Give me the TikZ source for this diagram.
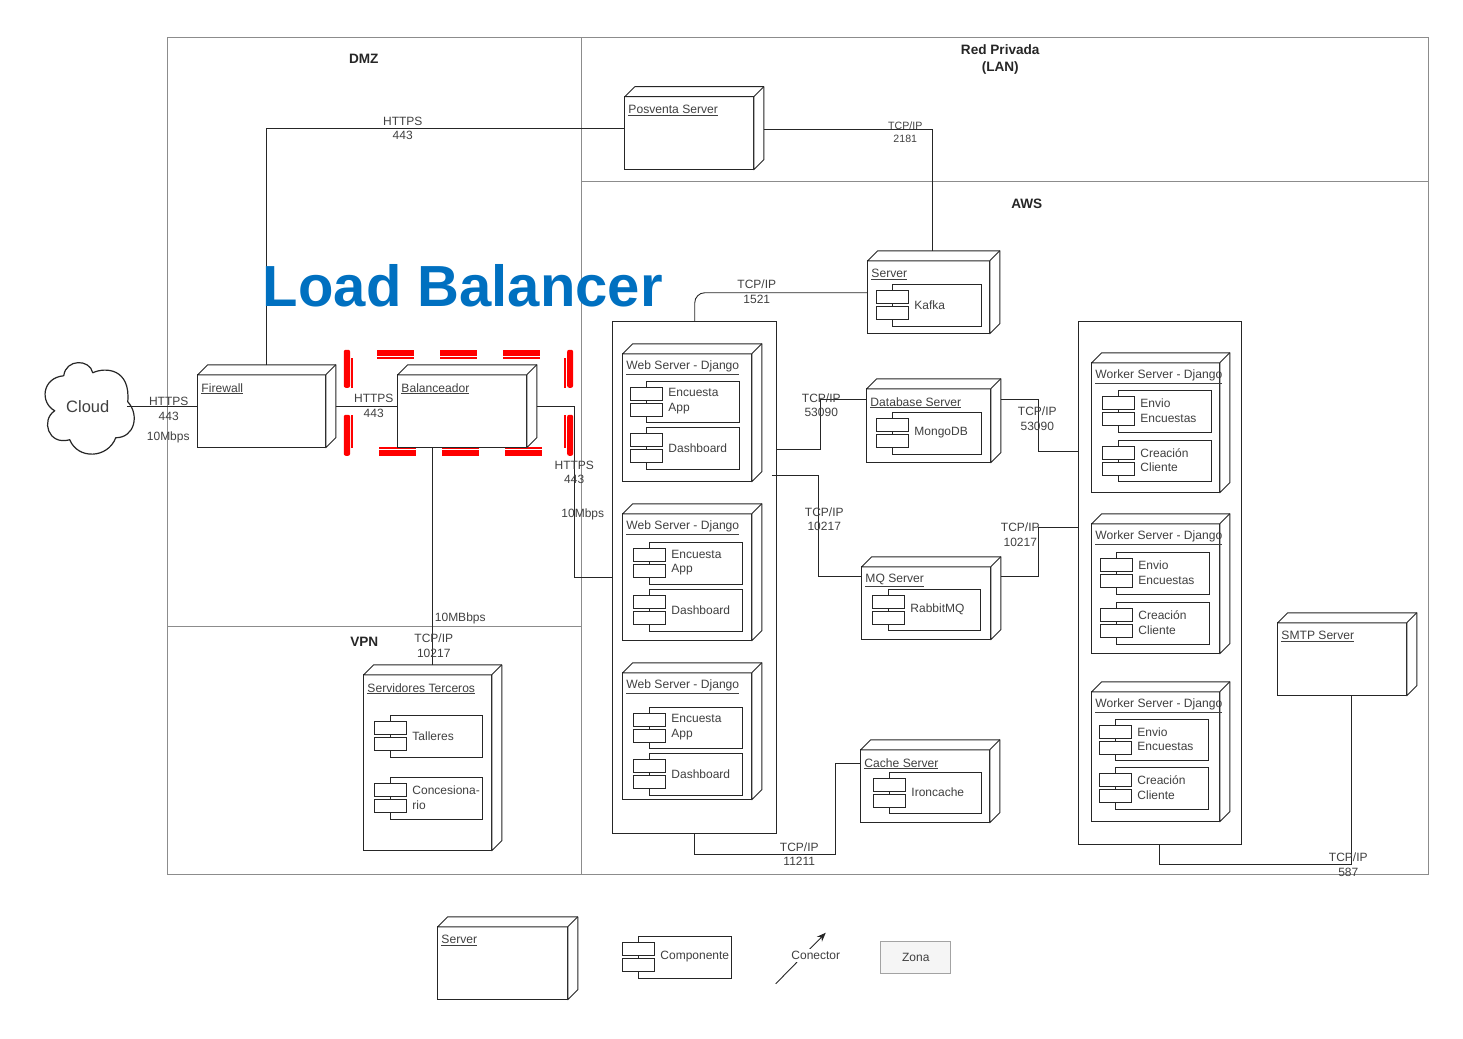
\documentclass[tikz,border=0pt]{standalone}
\usepackage{fontspec}
\setmainfont{Liberation Sans}
\usetikzlibrary{arrows.meta}
\definecolor{txt}{HTML}{404040}
\definecolor{ln}{HTML}{262626}
\definecolor{zoneln}{HTML}{8C8C8C}
\definecolor{lbblue}{RGB}{0,112,192}
\tikzset{
  frontbox/.style={draw=ln,fill=white,line width=1pt,anchor=north west,inner sep=0pt,outer sep=0pt},
  edge/.style={draw=ln,line width=1pt,line join=round},
  link/.style={draw=ln,line width=0.9pt},
  zone/.style={draw=zoneln,line width=0.9pt},
  lbl/.style={text=txt,align=center,inner sep=0pt,font=\fontsize{12}{14.5}\selectfont},
  lblsmall/.style={text=txt,align=center,inner sep=0pt,font=\fontsize{10.6}{13}\selectfont},
  ttl/.style={text=txt,anchor=west,inner sep=0pt,font=\fontsize{12.1}{14.5}\selectfont},
  zonetitle/.style={text=ln,align=center,inner sep=0pt,font=\fontsize{13.6}{17}\selectfont\bfseries},
  ctext/.style={text=txt,anchor=west,align=left,inner sep=0pt,font=\fontsize{12}{14.5}\selectfont},
  redmark/.style={fill=red},
}
% name, x, y (front top-left), w, h, title
\newcommand{\srvbox}[6]{%
  \node[frontbox,minimum width=#4,minimum height=#5] (#1) at (#2,#3) {};
  \draw[edge,fill=white] (#1.north west) -- ++(10,-10) -- ++(#4,0) -- ++(0,#5) -- ++(-10,10) -- (#1.north east) -- cycle;
  \draw[edge] (#1.north east) -- ++(10,-10);
  \coordinate (#1-n) at ([shift={(5,-10)}]#1.north);
  \coordinate (#1-e) at ([shift={(10,-5)}]#1.east);
  \node[ttl] (#1-t) at ([shift={(3.5,14)}]#1.north west) {\underline{#6}};
}
% name, x, y (body top-left), w, h, text
\newcommand{\compbox}[6]{%
  \node[frontbox,minimum width=#4,minimum height=#5] (#1) at (#2,#3) {};
  \node[frontbox,minimum width=32,minimum height=13] (#1-a) at ([shift={(-16,6)}]#1.north west) {};
  \node[frontbox,minimum width=32,minimum height=13] (#1-b) at ([shift={(-16,22)}]#1.north west) {};
  \node[ctext] (#1-t) at ([shift={(21.5,-1)}]#1.west) {#6};
}
\begin{document}
\begin{tikzpicture}[x=1pt,y=-1pt]
\useasboundingbox (0.25,0.25) rectangle (1463.25,1038.25);
% zones
\draw[zone] (168,38) rectangle (1429,875);
\draw[zone] (582,38) -- (582,875);
\draw[zone] (582,182) -- (1429,182);
\draw[zone] (168,627) -- (582,627);
\node[zonetitle] (zdmz) at (364,59) {DMZ};
\node[zonetitle] (zlan) at (1000.5,59.5) {Red Privada\\(LAN)};
\node[zonetitle] (zaws) at (1027,204) {AWS};
\node[zonetitle] (zvpn) at (364.5,642) {VPN};
% red dashed mark: each dash is a thick stroke with a thin one inside it
\fill[redmark,rounded corners=2pt] (344,350) rectangle (350.4,388);
\fill[redmark] (351.2,358) rectangle (353,388);
\fill[redmark,rounded corners=2pt] (344,415) rectangle (350.4,456);
\fill[redmark] (351.2,415) rectangle (353,448);
\fill[redmark,rounded corners=2pt] (567.4,350) rectangle (573.4,388);
\fill[redmark] (564,358) rectangle (566,388);
\fill[redmark,rounded corners=2pt] (567.4,415) rectangle (573.4,456);
\fill[redmark] (564,415) rectangle (566,448);
\foreach \xa in {377,440,503}{
  \fill[redmark] (\xa,350) rectangle ++(37,6);
  \fill[redmark] (\xa,357) rectangle ++(37,1.8);
}
\foreach \xa in {379,442,505}{
  \fill[redmark] (\xa,450) rectangle ++(37,6);
  \fill[redmark] (\xa,447) rectangle ++(37,1.8);
}
% cloud
\draw[edge,fill=white,line width=1.2pt] (64,376) .. controls (66,359) and (90,359) .. (93,373)
  .. controls (106,367) and (131,369) .. (128,402)
  .. controls (140,415) and (135,438) .. (116,438)
  .. controls (108,459) and (78,460) .. (70,440)
  .. controls (48,446) and (41,420) .. (55,411)
  .. controls (40,403) and (42,378) .. (64,376) -- cycle;
\node[text=txt,inner sep=0pt,minimum width=78,font=\fontsize{16.5}{18}\selectfont] (cloud) at (88,407) {Cloud};
% servers
\srvbox{firewall}{198}{375}{128}{73}{Firewall}
\srvbox{bal}{398}{375}{129}{73}{Balanceador}
\srvbox{posventa}{625}{97}{129}{73}{Posventa Server}
\srvbox{kafkasrv}{868}{261}{122}{73}{Server}
\compbox{kafka}{893}{285}{89}{42}{Kafka}
\srvbox{dbsrv}{867}{389}{124}{74}{Database Server}
\compbox{mongo}{893}{413}{89}{42}{MongoDB}
\srvbox{mqsrv}{862}{567}{129}{73}{MQ Server}
\compbox{rabbit}{889}{590}{92}{41}{RabbitMQ}
\srvbox{cachesrv}{861}{750}{129}{73}{Cache Server}
\compbox{iron}{890}{773}{92}{41}{Ironcache}
\srvbox{smtp}{1278}{623}{129}{73}{SMTP Server}
\srvbox{terceros}{364}{675}{128}{176}{Servidores Terceros}
\compbox{talleres}{391}{716}{92}{42}{Talleres}
\compbox{conces}{391}{778}{92}{42}{Concesiona-\\rio}
% web group
\node[frontbox,minimum width=164,minimum height=512] (webbox) at (613,322) {};
\srvbox{web1}{623}{354}{129}{128}{Web Server  - Django}
\compbox{w1a}{647}{382}{93}{41}{Encuesta\\App}
\compbox{w1b}{647}{428}{93}{42}{Dashboard}
\srvbox{web2}{623}{514}{129}{127}{Web Server - Django}
\compbox{w2a}{650}{543}{93}{42}{Encuesta\\App}
\compbox{w2b}{650}{590}{93}{42}{Dashboard}
\srvbox{web3}{623}{673}{129}{127}{Web Server - Django}
\compbox{w3a}{650}{708}{93}{41}{Encuesta\\App}
\compbox{w3b}{650}{754}{93}{42}{Dashboard}
% worker group
\node[frontbox,minimum width=163,minimum height=523] (workbox) at (1079,322) {};
\srvbox{work1}{1092}{363}{128}{130}{Worker Server - Django}
\compbox{wk1a}{1119}{391}{93}{42}{Envio\\Encuestas}
\compbox{wk1b}{1119}{441}{93}{41}{Creación\\Cliente}
\srvbox{work2}{1092}{524}{128}{130}{Worker Server - Django}
\compbox{wk2a}{1117}{553}{93}{42}{Envio\\Encuestas}
\compbox{wk2b}{1117}{603}{93}{42}{Creación\\Cliente}
\srvbox{work3}{1092}{692}{128}{130}{Worker Server - Django}
\compbox{wk3a}{1116}{720}{93}{41}{Envio\\Encuestas}
\compbox{wk3b}{1116}{768}{93}{42}{Creación\\Cliente}
% connectors
\coordinate (p1) at (267,129);
\coordinate (p2) at (933,130);
\coordinate (k1) at (695,293);
\coordinate (r1) at (575,407);
\coordinate (r2) at (575,578);
\coordinate (j1) at (821,450);
\coordinate (j2) at (821,400);
\coordinate (m0) at (772,476);
\coordinate (m1) at (819,476);
\coordinate (m2) at (819,577);
\coordinate (d1) at (1039,400);
\coordinate (d2) at (1039,452);
\coordinate (q1) at (1039,577);
\coordinate (q2) at (1039,528);
\coordinate (b1) at (433,500);
\coordinate (c1) at (695,855);
\coordinate (c2) at (836,855);
\coordinate (c3) at (836,764);
\coordinate (s1) at (1160,865);
\coordinate (s2) at (1352,865);
\draw[link] (cloud.east) -- (firewall.west|-cloud.east);
\draw[link] (firewall-e|-cloud.east) -- (bal.west|-cloud.east);
\draw[link] (bal-e|-r1) -- (r1) -- (r2) -- (webbox.west|-r2);
\draw[link] (firewall-n) -- (p1) -- (posventa.west|-p1);
\draw[link] (posventa-e|-p2) -- (p2) -- (kafkasrv-n-|p2);
\draw[link,rounded corners=10pt] (kafkasrv.west|-k1) -- (k1) -- (webbox.north);
\draw[link] (webbox.east|-j1) -- (j1) -- (j2) -- (dbsrv.west|-j2);
\draw[link] (m0) -- (m1) -- (m2) -- (mqsrv.west|-m2);
\draw[link] (dbsrv-e|-d1) -- (d1) -- (d2) -- (workbox.west|-d2);
\draw[link] (mqsrv-e|-q1) -- (q1) -- (q2) -- (workbox.west|-q2);
\draw[link] (b1|-bal.south) -- (b1|-terceros-n);
\draw[link] (webbox.south) -- (c1) -- (c2) -- (c3) -- (cachesrv.west|-c3);
\draw[link] (s1|-workbox.south) -- (s1) -- (s2) -- (s2|-smtp.south);
% connector labels
\node[lbl] (l1) at (403,128.5) {HTTPS\\443};
\node[lblsmall] (l2) at (905.5,132) {TCP/IP\\2181};
\node[lbl] (l3) at (757,292) {TCP/IP\\1521};
\node[lbl] (l4) at (821.5,405.5) {TCP/IP\\53090};
\node[lbl] (l5) at (1037.5,419) {TCP/IP\\53090};
\node[lbl] (l6) at (824.5,519.5) {TCP/IP\\10217};
\node[lbl] (l7) at (1020.5,535) {TCP/IP\\10217};
\node[lbl] (l8) at (799.5,854.5) {TCP/IP\\11211};
\node[lbl] (l9) at (1348.5,865) {TCP/IP\\587};
\node[lbl] (l10) at (434,646) {TCP/IP\\10217};
\node[lbl] (l11) at (460.5,618.5) {10MBbps};
\node[lbl] (l12) at (169,409) {HTTPS\\443};
\node[lbl] (l13) at (168.5,438) {10Mbps};
\node[lbl] (l14) at (374,406) {HTTPS\\443};
\node[lbl] (l15) at (574.5,472.5) {HTTPS\\443};
\node[lbl] (l16) at (583,515) {10Mbps};
% legend
\srvbox{legsrv}{438}{927}{130}{73}{Server}
\compbox{legcomp}{639}{937}{93}{42}{Componente}
\coordinate (a0) at (776,984);
\coordinate (a1) at (826,933);
\draw[link,-{Stealth[length=9pt,width=7pt]}] (a0) -- (a1);
\node[lbl,fill=white,inner xsep=1pt,inner ysep=2pt] (conector) at (816,955.5) {Conector};
\node[draw=zoneln!80,fill=black!4,line width=1pt,minimum width=70,minimum height=32,text=txt,inner sep=0pt,font=\fontsize{12}{14}\selectfont] (zona) at (916,958) {Zona};
% title
\node[text=lbblue,inner sep=0pt,anchor=west,font=\fontsize{58}{60}\selectfont\bfseries] (lb) at (263,286) {Load Balancer};
\end{tikzpicture}
\end{document}
